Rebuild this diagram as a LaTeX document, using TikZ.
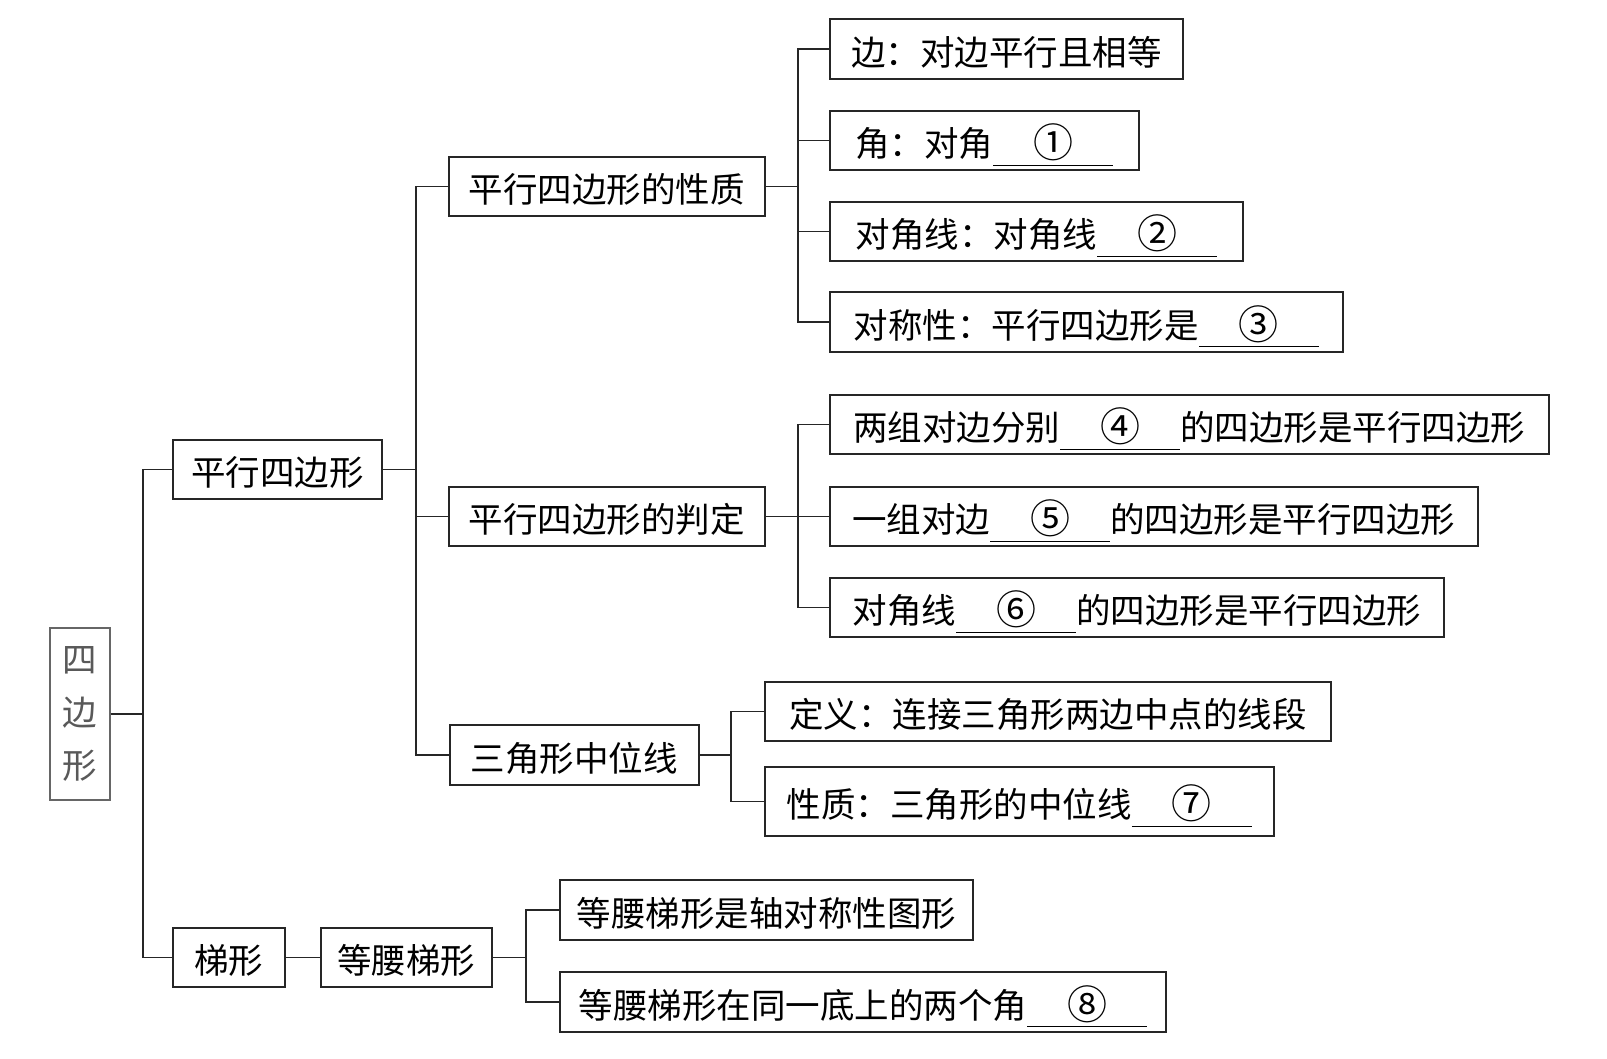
\documentclass[tikz,border=0pt]{standalone}
\usepackage{fontspec}
\setmainfont{Noto Sans CJK SC}
\newcommand\blk[1]{\makebox[120pt]{\fontsize{40}{40}\selectfont\raisebox{-1pt}{#1}}\hspace{-120pt}\rule[-9pt]{120pt}{1.3pt}}
\begin{document}
\begin{tikzpicture}[x=1pt,y=-1pt,
  bx/.style={draw=black!85, line width=1.6pt, anchor=north west, inner sep=0pt,
    minimum height=59pt, text height=36pt, text depth=3pt, font=\fontsize{34.5}{40}\selectfont},
  ln/.style={draw=black!85, line width=1.6pt}]
\fill[white] (0,0) rectangle (1607,1058);
\useasboundingbox (0,0) rectangle (1607,1058);
% root
\node[bx, minimum width=60pt, minimum height=172pt, draw=black!60, text=black!65, align=center,
  text height=, text depth=, font=\fontsize{34.5}{53}\selectfont] (root) at (49,627) {四\\边\\形};
% level 1
\node[bx, minimum width=209pt] (P) at (172,439) {平行四边形};
\node[bx, minimum width=112pt] (T) at (172,927) {梯形};
\node[bx, minimum width=171pt] (D) at (320,927) {等腰梯形};
\node[bx, minimum width=413pt, minimum height=60pt] (D1) at (559,879) {等腰梯形是轴对称性图形};
\node[bx, minimum width=606pt, minimum height=60pt] (D2) at (559,971) {等腰梯形在同一底上的两个角\blk{⑧}};
% level 2
\node[bx, minimum width=316pt] (X) at (448,156) {平行四边形的性质};
\node[bx, minimum width=316pt] (J) at (448,486) {平行四边形的判定};
\node[bx, minimum width=249pt, minimum height=60pt] (M) at (449,724) {三角形中位线};
% property children
\node[bx, minimum width=353pt, minimum height=60pt] (X1) at (829,18) {边：对边平行且相等};
\node[bx, minimum width=309pt] (X2) at (829,110) {角：对角\blk{①}};
\node[bx, minimum width=413pt] (X3) at (829,201) {对角线：对角线\blk{②}};
\node[bx, minimum width=513pt, minimum height=60pt] (X4) at (829,291) {对称性：平行四边形是\blk{③}};
% criteria children
\node[bx, minimum width=719pt] (J1) at (829,394) {两组对边分别\blk{④}的四边形是平行四边形};
\node[bx, minimum width=648pt] (J2) at (829,486) {一组对边\blk{⑤}的四边形是平行四边形};
\node[bx, minimum width=614pt] (J3) at (829,577) {对角线\blk{⑥}的四边形是平行四边形};
% midline children
\node[bx, minimum width=566pt] (M1) at (764,681) {定义：连接三角形两边中点的线段};
\node[bx, minimum width=509pt, minimum height=69pt] (M2) at (764,766) {性质：三角形的中位线\blk{⑦}};
% trunk coordinates
\coordinate (t1) at (143,0);
\coordinate (t2) at (416,0);
\coordinate (t3) at (798,0);
\coordinate (t5) at (731,0);
\coordinate (t6) at (526,0);
% connectors
\draw[ln] (root.east) -- (root.east -| t1);
\draw[ln] (P.west) -- (P.west -| t1) -- (T.west -| t1) -- (T.west);
\draw[ln] (T.east) -- (D.west);
\draw[ln] (D.east) -- (D.east -| t6);
\draw[ln] (D1.west) -- (D1.west -| t6) -- (D2.west -| t6) -- (D2.west);
\draw[ln] (P.east) -- (P.east -| t2);
\draw[ln] (X.west) -- (X.west -| t2) -- (M.west -| t2) -- (M.west);
\draw[ln] (J.west) -- (J.west -| t2);
\draw[ln] (X.east) -- (X.east -| t3);
\draw[ln] (X1.west) -- (X1.west -| t3) -- (X4.west -| t3) -- (X4.west);
\draw[ln] (X2.west) -- (X2.west -| t3);
\draw[ln] (X3.west) -- (X3.west -| t3);
\draw[ln] (J.east) -- (J2.west);
\draw[ln] (J1.west) -- (J1.west -| t3) -- (J3.west -| t3) -- (J3.west);
\draw[ln] (M.east) -- (M.east -| t5);
\draw[ln] (M1.west) -- (M1.west -| t5) -- (M2.west -| t5) -- (M2.west);
\end{tikzpicture}
\end{document}
